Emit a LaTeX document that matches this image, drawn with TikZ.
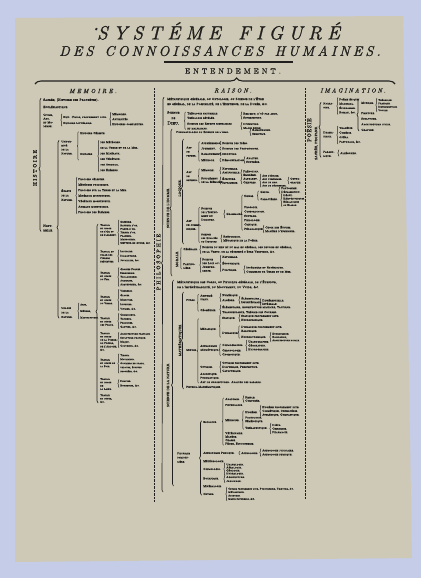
\documentclass[tikz,border=0pt]{standalone}
\usepackage{fontspec}
\usetikzlibrary{decorations.pathreplacing}
\definecolor{bgblue}{RGB}{197,204,231}
\definecolor{paper}{RGB}{205,201,182}
\definecolor{ink}{RGB}{34,32,30}
\newfontfamily\itmfont{lmromancaps10-regular}[Extension=.otf, FakeBold=1.5]
\newfontfamily\ttlfont{lmroman10-italic}[Extension=.otf, FakeBold=1]
\newfontfamily\hdfont{lmroman10-regular}[Extension=.otf, FakeBold=1]
\newcommand{\fs}[2][2.8]{\fontsize{#1}{#2}\itmfont}
\newcommand{\spread}[2]{\def\spgap{#1}\spreadnext#2\relax}
\def\spreadnext#1{\ifx\relax#1\else#1\hspace{\spgap}\expandafter\spreadnext\fi}
\newcommand{\brnode}[2][0.6pt]{\draw[brc] ([xshift=-1pt,yshift=-#1]#2.south west) -- ([xshift=-1pt,yshift=#1]#2.north west);}
\tikzset{
  itm/.style={anchor=west, inner sep=0pt, align=left, text=ink, font=\fs{4.6}},
  vlab/.style={rotate=90, inner sep=0pt, text=ink, font=\fontsize{5.5}{6}\hdfont},
  slab/.style={rotate=90, inner sep=0pt, text=ink, font=\fontsize{3.4}{4}\hdfont},
  brc/.style={draw=ink, line width=0.45pt, decorate, decoration={brace, amplitude=1.2pt}},
  bbrc/.style={draw=ink, line width=0.65pt, decorate, decoration={brace, amplitude=2pt, aspect=#1}},
  dotl/.style={draw=ink, line width=1pt, dash pattern=on 0.7pt off 0.7pt}
}
\begin{document}
\begin{tikzpicture}[x=1pt, y=-1pt]
  \useasboundingbox (0,0) rectangle (421,578);
  \fill[bgblue] (0,0) rectangle (421,578);
  \fill[paper] (15,18) -- (403,16) -- (412,558) -- (15,562) -- cycle;

  \node[text=ink, font=\fontsize{19}{19}\ttlfont] (ttl) at (217,31) {\raisebox{7pt}{\fontsize{6}{6}\selectfont*}\spread{5.3pt}{SYSTÉME~FIGURÉ}};
  \node[text=ink, font=\fontsize{14}{14}\ttlfont] (sub) at (220,51) {\spread{3.1pt}{DES~CONNOISSANCES~HUMAINES.}};
  \draw[ink, line width=2.2pt] (164,62) -- (293,62);
  \node[text=ink, font=\fontsize{7.5}{8}\hdfont] (ent) at (233,71) {\spread{3pt}{ENTENDEMENT.}};
  \coordinate (bl) at (35,84);
  \coordinate (br) at (395,84);
  \draw[ink, line width=1.1pt, decorate, decoration={brace, amplitude=6pt, aspect=0.56}] (bl) -- (br);
  \node[text=ink, font=\fontsize{6}{6}\ttlfont] (memh) at (93,91) {\spread{2.2pt}{MEMOIRE.}};
  \node[text=ink, font=\fontsize{6}{6}\ttlfont] (raih) at (233,90.5) {\spread{2pt}{RAISON.}};
  \node[text=ink, font=\fontsize{6}{6}\ttlfont] (imah) at (353,90.5) {\spread{1.8pt}{IMAGINATION.}};
  \draw[dotl] (154,88) -- (154,502);
  \draw[dotl] (305,88) -- (305,499);

  \node[vlab] (his) at (35,168) {\spread{1.3pt}{HISTOIRE}};
  \node[itm, font={\fs[3.2]{5}}] (sac) at (43,100) {Sacrée, (Histoire des Prophètes).};
  \node[itm, font={\fs[3.2]{5}}] (ecc) at (43,107) {Ecclésiastique.};
  \node[itm, font={\fs{3.8}}] (civ) at (43,120.5) {Civile,\\Anc.\\et Mo-\\derne.};
  \node[itm, font={\fs{6}}] (civa) at (63,120) {Hist. Civile, proprement dite.\\Histoire Littéraire.};
  \node[itm, font={\fs{5}}] (civb) at (112,119) {Mémoires.\\Antiquités.\\Histoires complettes.};
  \brnode[2pt]{civa}
  \brnode{civb}
  \node[itm, font={\fs[3.2]{4.5}}] (nat) at (43,228) {Natu-\\relle.};
  \draw[bbrc=0.47] ([xshift=-2pt]nat.south west) -- ([xshift=-2pt]sac.north west);

  \node[itm, font={\fs{4}}] (unif) at (61,147.5) {Unifor-\\mité\\de la\\Nature.};
  \node[itm] (hcel) at (80,133) {Histoire Céleste.};
  \node[itm] (hdes) at (80,154) {Histoire};
  \draw[brc] ([xshift=-1.5pt,yshift=-5pt]hdes.south west) -- ([xshift=-1.5pt]hcel.north west);
  \node[itm, font={\fs{5.6}}] (hlst) at (100,156) {des Météores.\\de la Terre et de la Mer.\\des Minéraux.\\des Végétaux.\\des Animaux.\\des Élémens.};
  \brnode{hlst}
  \node[itm, font={\fs{4.5}}] (ecar) at (61,195) {Écarts\\de la\\Nature.};
  \node[itm, font={\fs{5.5}}] (elst) at (78,195.5) {Prodiges célestes.\\Météores prodigieux.\\Prodiges sur la Terre et la Mer.\\Minéraux monstrueux.\\Végétaux monstrueux.\\Animaux monstrueux.\\Prodiges des Élémens.};
  \brnode{elst}
  \node[itm, font={\fs{4.5}}] (usg) at (61,312.5) {Usages\\de la\\Nature.};
  \draw[bbrc=0.51] ([xshift=-2pt]usg.south west) -- ([xshift=-2pt]unif.north west);
  \node[itm, font={\fs[2.4]{6.5}}] (uart) at (80,311) {Arts,\\Métiers,\\Manufactures.};
  \brnode{uart}

  \node[itm, font={\fs[2.5]{3.3}}] (g1) at (100,230) {Travail\\et usage\\de l'Or et\\de l'Argent.};
  \node[itm, font={\fs[2.5]{3.5}}] (g1l) at (120,232.5) {Orfévre.\\Batteur d'or.\\Fileur d'or.\\Tireur d'or.\\Planeur.\\Monnoyeur.\\Metteur en œuvre, \&c.};
  \node[itm, font={\fs[2.5]{3.3}}] (g2) at (100,256.5) {Travail et\\usage des\\Pierres\\précieuses.};
  \node[itm, font={\fs[2.5]{4.5}}] (g2l) at (120,256) {Lapidaire.\\Diamantaire.\\Jouaillier, \&c.};
  \node[itm, font={\fs[2.5]{3.3}}] (g3) at (100,276) {Travail\\et usage\\du Fer.};
  \node[itm, font={\fs[2.5]{3.8}}] (g3l) at (120,277) {Grosses Forges.\\Serrurerie.\\Taillanderie.\\Armurier.\\Arquebusier, \&c.};
  \node[itm, font={\fs[2.5]{3.3}}] (g4) at (100,300) {Travail\\et usage\\du Verre.};
  \node[itm, font={\fs[2.5]{4.5}}] (g4l) at (120,300) {Verrerie.\\Glaces.\\Miroitier.\\Lunetier.\\Vitrier, \&c.};
  \node[itm, font={\fs[2.5]{3.3}}] (g5) at (100,321.5) {Travail\\et usage\\des Peaux.};
  \node[itm, font={\fs[2.5]{4}}] (g5l) at (120,321) {Chamoiseur.\\Tanneur.\\Peaussier.\\Gantier, \&c.};
  \node[itm, font={\fs[2.5]{3.3}}] (g6) at (100,341.5) {Travail\\et usage\\de la Pierre,\\du Plâtre,\\de l'Ardoise,\\\&c.};
  \node[itm, font={\fs[2.5]{4}}] (g6l) at (120,340) {Architecture pratique.\\Sculpture pratique.\\Maçon.\\Couvreur, \&c.};
  \node[itm, font={\fs[2.5]{3.3}}] (g7) at (100,363) {Travail\\et usage de\\la Soie.};
  \node[itm, font={\fs[2.5]{4}}] (g7l) at (120,363.5) {Tireur.\\Moulineur.\\Ouvriers en draps,\\velours, étoffes\\brochées, \&c.};
  \node[itm, font={\fs[2.5]{3.3}}] (g8) at (100,384) {Travail\\et usage\\de\\la Laine.};
  \node[itm, font={\fs[2.5]{4.5}}] (g8l) at (120,383.5) {Drapier.\\Bonnetier, \&c.};
  \node[itm, font={\fs[2.5]{3.3}}] (g9) at (100,398.5) {Travail\\et usage,\\\&c.};
  \draw[bbrc=0.51] ([xshift=-2pt]g9.south west) -- ([xshift=-2pt]g1.north west);
  \brnode{g1l}
  \brnode{g2l}
  \brnode{g3l}
  \brnode{g4l}
  \brnode{g5l}
  \brnode{g6l}
  \brnode{g7l}
  \brnode{g8l}

  \node[vlab] (phi) at (158.5,262) {\spread{1.8pt}{PHILOSOPHIE}};
  \coordinate (phbot) at (163,492);
  \node[itm, font={\fs[3.1]{5}}] (meta) at (167,101.5) {Métaphysique générale, ou Ontologie, ou Science de l'Être\\en général, de la Possibilité, de l'Existence, de la Durée, \&c.};
  \draw[bbrc=0.58] (phbot) -- ([xshift=-3pt]meta.north west);
  \node[itm, align=center, font={\fs[3.2]{5.5}}] (dieu) at (167,118) {Science\\de\\{\fontsize{4.6}{5}\selectfont Dieu.}};
  \node[itm] (theo) at (187,115.5) {Théologie naturelle.\\Théologie révélée.};
  \node[itm] (espr) at (187,126) {Science des Esprits bienfaisans\\et malfaisans.};
  \draw[brc] ([xshift=-1.5pt]espr.south west) -- ([xshift=-1.5pt]theo.north west);
  \node[itm, font={\fs{4}}] (reli) at (243,115.5) {Religion, d'où par abus,\\Superstition.};
  \node[itm, font={\fs{4}}] (divi) at (243,126) {Divination.\\Magie noire.};
  \brnode{reli}
  \brnode{divi}

  \node[slab] (shom) at (168,208) {SCIENCE DE L'HOMME.};
  \coordinate (shtop) at (172,129);
  \coordinate (shbot) at (172,276);
  \draw[bbrc=0.46] (shbot) -- (shtop);
  \node[itm] (pneu) at (176,132) {Pneumatologie ou Science de l'Ame.};
  \node[itm, font={\fs{4}}] (pnls) at (252,132) {Raisonnable.\\Sensitive.};
  \brnode{pnls}
  \node[slab] (logi) at (180,188) {LOGIQUE.};
  \coordinate (lgtop) at (183.5,139);
  \coordinate (lgbot) at (183.5,244);
  \draw[bbrc=0.53] (lgbot) -- (lgtop);
  \node[itm, font={\fs{4}}] (pens) at (186,151.5) {Art\\de\\penser.};
  \node[itm] (appr) at (201,143) {Appréhension.};
  \node[itm] (juge) at (201,148.5) {Jugement.};
  \node[itm] (rais) at (201,154) {Raisonnement.};
  \node[itm] (meth) at (201,160) {Méthode.};
  \draw[brc] ([xshift=-1.5pt]meth.south west) -- ([xshift=-1.5pt]appr.north west);
  \node[itm] (idee) at (222,143) {Science des Idées.};
  \node[itm] (prop) at (222,148.5) {Science des Propositions.};
  \node[itm] (indu) at (222,154) {Induction.};
  \node[itm] (demo) at (222,160) {Démonstration.};
  \node[itm, font={\fs{3.6}}] (anal) at (246,160) {Analyse.\\Synthèse.};
  \brnode{idee}
  \brnode{prop}
  \brnode{indu}
  \brnode{demo}
  \brnode{anal}
  \node[itm, font={\fs{4}}] (rete) at (186,176) {Art\\de\\retenir.};
  \node[itm] (memo) at (201,170) {Mémoire.};
  \node[itm, font={\fs{3.6}}] (supp) at (201,180) {Supplément\\de la Mémoire.};
  \draw[brc] ([xshift=-1.5pt]supp.south west) -- ([xshift=-1.5pt]memo.north west);
  \node[itm, font={\fs{3.8}}] (mnat) at (222,170.5) {Naturelle.\\Artificielle.};
  \node[itm, font={\fs{3.6}}] (pren) at (243,173) {Prénotion.\\Emblème.};
  \node[itm, font={\fs{3.8}}] (ecri) at (222,180.5) {Écriture.\\Imprimerie.};
  \node[itm, font={\fs{3.6}}] (alph) at (243,180.5) {Alphabet.\\Chiffres.};
  \node[itm, font={\fs[2.5]{3.3}}] (arts) at (262,180.5) {Art d'écrire.\\Art d'imprimer.\\Art de lire.\\Art de déchiffrer.};
  \node[itm, font={\fs{3.6}}] (orth) at (290,180.5) {Ortho-\\graphe.};
  \brnode{mnat}
  \brnode{pren}
  \brnode{ecri}
  \brnode{alph}
  \brnode{arts}
  \brnode{orth}
  \node[itm, font={\fs{4}}] (comm) at (186,225) {Art\\de commu-\\niquer.};
  \node[itm, font={\fs{3.8}}] (inst) at (201,214) {Science\\de l'Instru-\\ment du\\Discours.};
  \node[itm, font={\fs[2.5]{3.6}}] (qual) at (201,238) {Science\\des Qualités\\du Discours.};
  \draw[brc] ([xshift=-1.5pt]qual.south west) -- ([xshift=-1.5pt]inst.north west);
  \node[itm] (gram) at (226,214) {Grammaire.};
  \brnode[3pt]{gram}
  \node[itm] (sign) at (244,196) {Signes.};
  \node[itm, font={\fs{4.3}}] (gral) at (244,216) {Prosodie.\\Construction.\\Syntaxe.\\Philologie.\\Critique.};
  \node[itm] (peda) at (244,229) {Pédagogique.};
  \draw[brc] ([xshift=-1.5pt]peda.south west) -- ([xshift=-1.5pt]sign.north west);
  \node[itm] (gest) at (260,192) {Geste.};
  \node[itm] (cara) at (260,199) {Caractères.};
  \draw[brc] ([xshift=-1.5pt]cara.south west) -- ([xshift=-1.5pt]gest.north west);
  \node[itm, font={\fs{3.6}}] (pant) at (281,190) {Pantomime.\\Déclamation.};
  \node[itm, font={\fs[2.5]{3.3}}] (carl) at (283,200) {Idéaux.\\Hiéroglyphiques.\\Héraldiques\\ou Blason.};
  \node[itm, font={\fs{3.8}}] (choi) at (265,229) {Choix des Études.\\Manière d'enseigner.};
  \node[itm, font={\fs{3.8}}] (rhet) at (223,238.5) {Rhétorique.\\Mécanique de la Poësie.};
  \brnode{pant}
  \brnode{carl}
  \brnode{choi}
  \brnode{rhet}
  \node[slab] (mora) at (177,259) {MORALE.};
  \node[itm] (gene) at (183,249) {Générale.};
  \node[itm, font={\fs{3.8}}] (part) at (183,266) {Particu-\\lière.};
  \draw[brc] ([xshift=-1.5pt]part.south west) -- ([xshift=-1.5pt]gene.north west);
  \node[itm, font={\fs{4.5}}] (genl) at (202,249.5) {Science du bien et du mal en général, des devoirs en général,\\de la Vertu, de la nécessité d'être Vertueux, \&c.};
  \node[itm, font={\fs{3.8}}] (loix) at (202,265) {Science\\des Loix ou\\Jurispru-\\dence.};
  \node[itm, font={\fs{6.5}}] (jurl) at (222,263.5) {Naturelle.\\Économique.\\Politique.};
  \node[itm, font={\fs{4.2}}] (poll) at (246,269.5) {Intérieure et Extérieure.\\Commerce de Terre et de Mer.};
  \brnode{genl}
  \brnode{loix}
  \brnode{jurl}
  \brnode{poll}

  \node[slab] (snat) at (168,385) {SCIENCE DE LA NATURE.};
  \coordinate (sntop) at (173.5,280);
  \coordinate (snbot) at (173.5,486);
  \draw[bbrc=0.49] (snbot) -- (sntop);
  \node[itm, font={\fs[3.1]{5}}] (metc) at (177,284.5) {Métaphysique des Corps, ou Physique générale, de l'Étendue,\\de l'Impénétrabilité, du Mouvement, du Vuide, \&c.};
  \node[slab] (math) at (180,340) {MATHÉMATIQUES.};
  \coordinate (mttop) at (183.5,292);
  \coordinate (mtbot) at (183.5,389);
  \draw[bbrc=0.5] (mtbot) -- (mttop);
  \node[itm] (pure) at (186,300) {Pures.};
  \node[itm, font={\fs{3.6}}] (arit) at (200,297.5) {Arithmé-\\tique.};
  \node[itm] (geom) at (200,310) {Géométrie.};
  \draw[brc] ([xshift=-1.5pt]geom.south west) -- ([xshift=-1.5pt]arit.north west);
  \node[itm, font={\fs{5}}] (arl) at (222,297.5) {Numérique.\\Algèbre.};
  \node[itm, font={\fs{3.6}}] (alg) at (241,300) {Élémentaire.\\Infinitésimale.};
  \node[itm, font={\fs{3.5}}] (infi) at (262,302) {Différentielle.\\Intégrale.};
  \node[itm, font={\fs{5}}] (geol) at (222,309.5) {Élémentaire, Architecture militaire, Tactique.\\Transcendante, Théorie des Courbes.};
  \brnode{arl}
  \brnode{alg}
  \brnode{infi}
  \brnode{geol}
  \node[itm] (mixt) at (186,350) {Mixtes.};
  \node[itm] (meca) at (200,329) {Mécanique.};
  \node[itm, font={\fs{3.8}}] (astg) at (200,348) {Astronomie\\géométrique.};
  \node[itm] (opti) at (200,367) {Optique.};
  \node[itm, font={\fs{3.8}}] (acou) at (200,376) {Acoustique.\\Pneumatique.};
  \node[itm] (conj) at (200,382) {Art de conjecturer. Analyse des hasards.};
  \draw[brc] ([xshift=-1.5pt]conj.south west) -- ([xshift=-1.5pt,yshift=9pt]meca.north west);
  \node[itm] (stat) at (222,318) {Statique.};
  \node[itm] (dyna) at (222,333) {Dynamique.};
  \draw[brc] ([xshift=-1.5pt,yshift=-3pt]dyna.south west) -- ([xshift=-1.5pt,yshift=2pt]stat.north west);
  \node[itm, font={\fs{4}}] (stl) at (241,318) {Statique proprement dite.\\Hydrostatique.};
  \node[itm, font={\fs{4}}] (dyl) at (241,329) {Dynamique proprement dite.\\Balistique.};
  \node[itm] (hydr) at (241,337) {Hydrodynamique.};
  \draw[brc] ([xshift=-1.5pt]hydr.south west) -- ([xshift=-1.5pt]dyl.north west);
  \node[itm, font={\fs[2.5]{3.3}}] (hydl) at (272,337) {Hydraulique.\\Navigation,\\Architecture navale.};
  \brnode{stl}
  \brnode{hydl}
  \node[itm] (cosg) at (222,345) {Cosmographie.};
  \node[itm, font={\fs{4}}] (chro) at (222,352.5) {Chronologie.\\Gnomonique.};
  \draw[brc] ([xshift=-1.5pt]chro.south west) -- ([xshift=-1.5pt]cosg.north west);
  \node[itm, font={\fs{3.8}}] (cosl) at (248,345.5) {Uranographie.\\Géographie.\\Hydrographie.};
  \node[itm, font={\fs{4}}] (optl) at (222,367) {Optique proprement dite.\\Dioptrique, Perspective.\\Catoptrique.};
  \brnode{cosl}
  \brnode{optl}
  \node[itm] (phma) at (186,387) {Physico-Mathématiques.};

  \node[itm, font={\fs{4.2}}] (ppar) at (177,457.5) {Physique\\particu-\\lière.};
  \node[itm] (zool) at (203,422) {Zoologie.};
  \node[itm] (astp) at (203,453) {Astronomie Physique.};
  \node[itm] (mete) at (203,461) {Météorologie.};
  \node[itm] (cosm) at (203,469) {Cosmologie.};
  \node[itm] (bota) at (203,478.5) {Botanique.};
  \node[itm] (mine) at (203,486) {Minéralogie.};
  \node[itm] (chym) at (203,494) {Chymie.};
  \draw[bbrc=0.5] ([xshift=-1.5pt]chym.south west) -- ([xshift=-1.5pt]zool.north west);
  \node[itm] (anat) at (225,399) {Anatomie.};
  \node[itm] (phys) at (225,405) {Physiologie.};
  \node[itm] (medi) at (225,420) {Médecine.};
  \node[itm, font={\fs{3.5}}] (vete) at (225,438.5) {Vétérinaire.\\Manège.\\Chasse.\\Pêche, Fauconnerie.};
  \draw[brc] ([xshift=-1.5pt]vete.south west) -- ([xshift=-1.5pt]anat.north west);
  \node[itm, font={\fs{3.4}}] (anl) at (245,399) {Simple.\\Comparée.};
  \brnode{anl}
  \node[itm] (hygi) at (245,412) {Hygiène.};
  \node[itm, font={\fs{3.6}}] (path) at (245,419.5) {Pathologie.\\Séméiotique.};
  \node[itm] (ther) at (245,428) {Thérapeutique.};
  \draw[brc] ([xshift=-1.5pt]ther.south west) -- ([xshift=-1.5pt]hygi.north west);
  \node[itm, font={\fs{3.8}}] (hygl) at (262,411) {Hygiène proprement dite.\\Cosmétique, Orthopédie.\\Athlétique, Gymnastique.};
  \node[itm, font={\fs{3.6}}] (thel) at (272,428.5) {Diète.\\Chirurgie.\\Pharmacie.};
  \brnode{hygl}
  \brnode{thel}
  \node[itm] (astr) at (241,453) {Astrologie.};
  \node[itm, font={\fs{4}}] (astl) at (262,452.5) {Astrologie judiciaire.\\Astrologie physique.};
  \brnode{astr}
  \brnode{astl}
  \node[itm, font={\fs{3}}] (cosx) at (226,469) {Uranologie.\\Aérologie.\\Géologie.\\Hydrologie.};
  \node[itm, font={\fs{4}}] (botl) at (226,479) {Agriculture.\\Jardinage.};
  \node[itm, font={\fs[2.4]{3.4}}] (chyl) at (228,494) {Chymie proprement dite, Pyrotechnie, Teinture, \&c.\\Métallurgie.\\Alchymie.\\Magie naturelle, \&c.};
  \brnode{cosx}
  \brnode{botl}
  \brnode{chyl}

  \node[vlab] (poes) at (309,130) {\spread{0.6pt}{POËSIE}};
  \node[slab] (sapr) at (316,143) {SACRÉE, PROFANE.};
  \node[itm, font={\fs{4}}] (narr) at (323,105.5) {Narra-\\tive.};
  \node[itm, font={\fs{4}}] (dram) at (323,134.5) {Drama-\\tique.};
  \node[itm, font={\fs{4}}] (para) at (323,154) {Parabo-\\lique.};
  \draw[bbrc=0.55] ([xshift=-2pt]para.south west) -- ([xshift=-2pt]narr.north west);
  \node[itm, font={\fs{4.3}}] (narl) at (339,106) {Poëme épique.\\Madrigal.\\Épigramme.\\Roman, \&c.};
  \node[itm, font={\fs{4.6}}] (draml) at (339,135) {Tragédie.\\Comédie.\\Opéra.\\Pastorale, \&c.};
  \node[itm] (alle) at (340,153) {Allégories.};
  \brnode{narl}
  \brnode{draml}
  \brnode[2pt]{alle}
  \node[itm] (musi) at (361,103) {Musique.};
  \node[itm, font={\fs[2.5]{3.4}}] (musl) at (378,105) {Théorique.\\Pratique.\\Instrumentale.\\Vocale.};
  \brnode{musl}
  \node[itm, font={\fs{5.6}}] (beau) at (361,121.5) {Peinture.\\Sculpture.\\Architecture civile.\\Gravure.};
  \draw[bbrc=0.5] ([xshift=-2pt]beau.south west) -- ([xshift=-2pt,yshift=3pt]musi.north west);
\end{tikzpicture}
\end{document}
